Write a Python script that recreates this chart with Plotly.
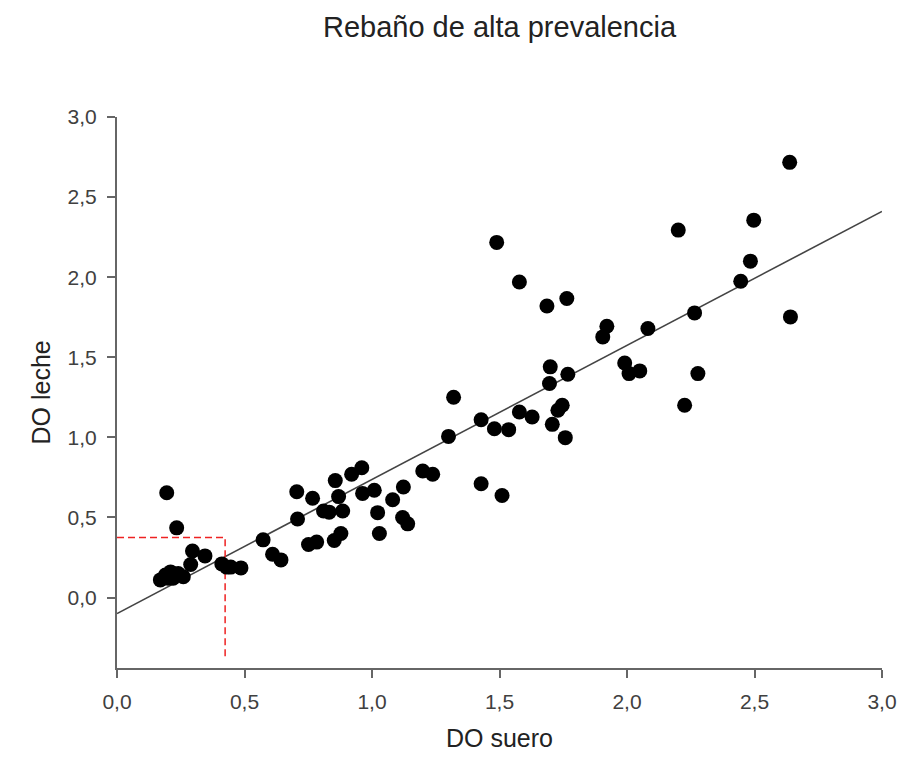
import plotly.graph_objects as go

# Data
do_suero = [0.17, 0.19, 0.20, 0.21, 0.22, 0.24, 0.26, 0.195, 0.234, 0.296, 0.345, 0.289,
            0.411, 0.43, 0.446, 0.486, 0.573, 0.61, 0.643, 0.705, 0.708, 0.751, 0.783,
            0.767, 0.81, 0.832, 0.852, 0.878, 0.856, 0.869, 0.885, 0.92, 0.96, 0.963,
            1.009, 1.022, 1.029, 1.081, 1.12, 1.14, 1.123, 1.199, 1.238, 1.30, 1.32,
            1.428, 1.428, 1.48, 1.489, 1.51, 1.536, 1.578, 1.578, 1.628, 1.686, 1.696,
            1.699, 1.707, 1.729, 1.746, 1.758, 1.764, 1.768, 1.905, 1.921, 1.991, 2.008,
            2.05, 2.082, 2.201, 2.226, 2.265, 2.278, 2.446, 2.484, 2.497, 2.638, 2.641]
do_leche = [0.11, 0.14, 0.12, 0.16, 0.12, 0.15, 0.13, 0.654, 0.435, 0.29, 0.26, 0.206,
            0.21, 0.19, 0.19, 0.185, 0.36, 0.27, 0.235, 0.66, 0.49, 0.331, 0.346,
            0.62, 0.54, 0.533, 0.356, 0.40, 0.73, 0.63, 0.54, 0.77, 0.81, 0.65,
            0.67, 0.53, 0.40, 0.61, 0.50, 0.46, 0.69, 0.79, 0.77, 1.006, 1.25,
            1.11, 0.71, 1.054, 2.217, 0.637, 1.048, 1.97, 1.158, 1.127, 1.82, 1.336,
            1.44, 1.081, 1.169, 1.2, 0.998, 1.867, 1.394, 1.627, 1.694, 1.464, 1.398,
            1.415, 1.68, 2.294, 1.20, 1.777, 1.398, 1.975, 2.10, 2.356, 2.717, 1.752]

fit_intercept = -0.10
fit_slope = 0.837
fit_x = [0.0, 3.0]

cutoff_suero = 0.424
cutoff_leche = 0.375
cutoff_bottom = -0.39

tick_vals = [0.0, 0.5, 1.0, 1.5, 2.0, 2.5, 3.0]

FONT = "Liberation Sans, Arial, sans-serif"

fig = go.Figure()
fig.add_trace(go.Scatter(
    x=fit_x, y=[fit_intercept + fit_slope * v for v in fit_x],
    mode="lines", line=dict(color="#444444", width=1.6),
    showlegend=False, hoverinfo="skip"))
fig.add_trace(go.Scatter(
    x=[0.0, cutoff_suero, cutoff_suero], y=[cutoff_leche, cutoff_leche, cutoff_bottom],
    mode="lines", line=dict(color="#ee2222", width=1.5, dash="7px,4px"),
    showlegend=False, hoverinfo="skip"))
fig.add_trace(go.Scatter(
    x=do_suero, y=do_leche, mode="markers",
    marker=dict(color="black", size=15, line=dict(width=0)),
    showlegend=False))

axis_common = dict(
    showgrid=False, zeroline=False, showline=True, linecolor="#666666", linewidth=2,
    ticks="outside", ticklen=8, tickwidth=2, tickcolor="#666666",
    tickvals=tick_vals, tickformat=".1f", automargin=False,
    tickfont=dict(family=FONT, size=21, color="#404040"),
)

fig.update_layout(
    width=897, height=744,
    separators=",.",
    plot_bgcolor="white", paper_bgcolor="white",
    margin=dict(l=109, r=23, t=109, b=84),
    title=dict(text="Rebaño de alta prevalencia", x=0.5, xref="paper",
               y=0.975, yref="container", yanchor="middle",
               font=dict(family=FONT, size=29, color="#222222")),
    xaxis=dict(range=[0, 3.0], ticklabelstandoff=6, **axis_common),
    yaxis=dict(range=[-0.44, 3.0], ticklabelstandoff=6, **axis_common),
    annotations=[
        dict(text="DO suero", x=0.5, y=0, xref="paper", yref="paper",
             xanchor="center", yanchor="middle", yshift=-70, showarrow=False,
             font=dict(family=FONT, size=25, color="#222222")),
        dict(text="DO leche", x=0, y=0.5, xref="paper", yref="paper",
             xanchor="center", yanchor="middle", xshift=-77, textangle=-90,
             showarrow=False, font=dict(family=FONT, size=25, color="#222222")),
    ],
)

fig.write_html("out.html")
